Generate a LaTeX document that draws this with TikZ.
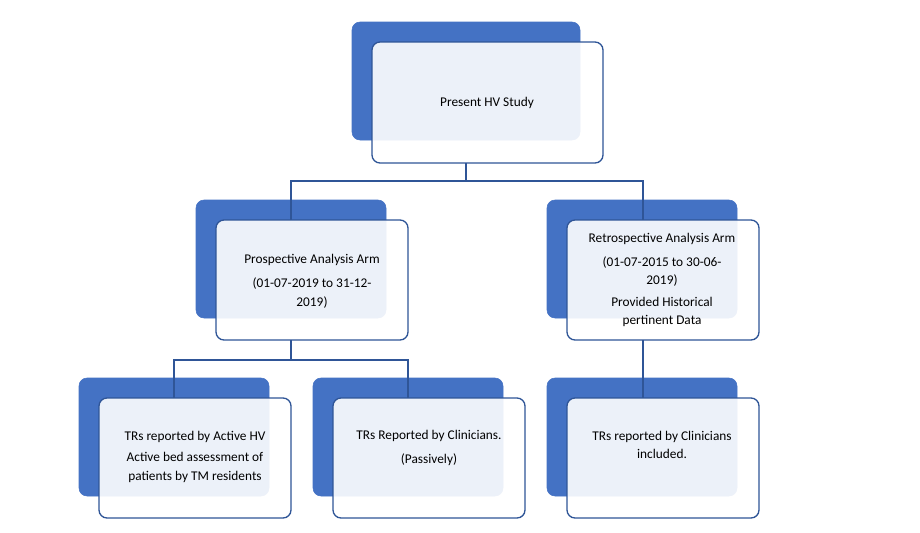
\documentclass[tikz,border=0pt]{standalone}
\usepackage{fontspec}
\setmainfont{Carlito}
\begin{document}
\begin{tikzpicture}[x=0.75pt,y=-0.75pt,
  back/.style={fill=blue1,draw=blue1,rounded corners=6pt},
  front/.style={fill=white,fill opacity=0.9,draw=blue2,line width=1pt,rounded corners=6pt},
  lbl/.style={align=center,font=\fontsize{10}{14}\selectfont,text=black},
  conn/.style={draw=blue2,line width=1pt}]
\definecolor{blue1}{HTML}{4472C4}
\definecolor{blue2}{HTML}{2F5597}
\useasboundingbox (0,0) rectangle (920,532);
\fill[white] (0,0) rectangle (920,532);
% boxes
\draw[back] (352,22) rectangle (580,140);
\draw[front] (372,42) rectangle (603,163);
\draw[back] (196,200) rectangle (386,318);
\draw[front] (216,220) rectangle (408,340);
\draw[back] (547,200) rectangle (737,318);
\draw[front] (567,220) rectangle (759,340);
\draw[back] (79,378) rectangle (269,496);
\draw[front] (99,398) rectangle (291,518);
\draw[back] (313,378) rectangle (503,496);
\draw[front] (333,398) rectangle (525,518);
\draw[back] (547,378) rectangle (737,496);
\draw[front] (567,398) rectangle (759,518);
% nodes (text)
\node[lbl] (top) at (487,103) {Present HV Study};
\node[lbl] (pa) at (312,281) {Prospective Analysis Arm\\[4pt](01-07-2019 to 31-12-\\2019)};
\node[lbl] (ra) at (662,280) {Retrospective Analysis Arm\\[4pt](01-07-2015 to 30-06-\\2019)\\[2pt]Provided Historical\\pertinent Data};
\node[lbl] (b1) at (195,457) {TRs reported by Active HV\\[2pt]Active bed assessment of\\patients by TM residents};
\node[lbl] (b2) at (429,448) {TRs Reported by Clinicians.\\[4pt](Passively)};
\node[lbl] (b3) at (662,445) {TRs reported by Clinicians\\included.};
% connectors
\coordinate (t0) at (466,163);
\coordinate (t1) at (466,181);
\coordinate (pl) at (291,220);
\coordinate (pr) at (643,220);
\draw[conn] (t0) -- (t1);
\draw[conn] (pl) -- (291,181) -- (643,181) -- (pr);
\coordinate (m0) at (291,340);
\coordinate (q1) at (174,398);
\coordinate (q2) at (408,398);
\draw[conn] (m0) -- (291,360);
\draw[conn] (q1) -- (174,360) -- (408,360) -- (q2);
\coordinate (r0) at (643,340);
\coordinate (r1) at (643,398);
\draw[conn] (r0) -- (r1);
\end{tikzpicture}
\end{document}
